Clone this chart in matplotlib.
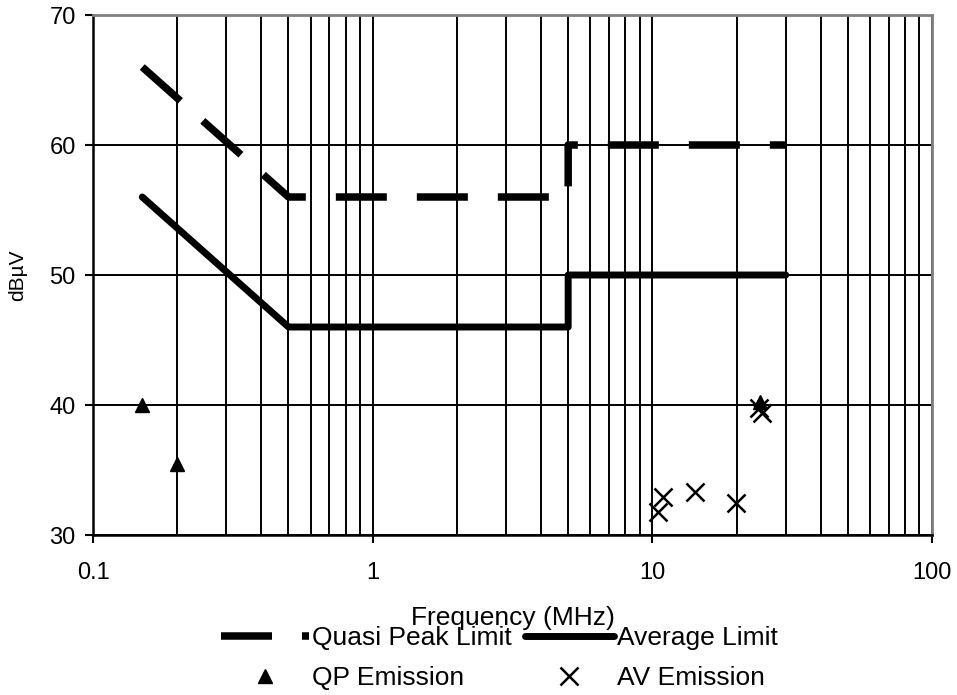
import matplotlib
matplotlib.use("Agg")
import matplotlib.pyplot as plt
from matplotlib.ticker import FixedLocator, FixedFormatter, NullFormatter

plt.rcParams['font.family'] = ['Liberation Sans', 'DejaVu Sans']
plt.rcParams['font.size'] = 17

# limit lines (MHz, dBuV)
qp_lim_freq = [0.15, 0.5, 5.0, 5.0, 30.0]
qp_lim_level = [66.0, 56.0, 56.0, 60.0, 60.0]
av_lim_freq = [0.15, 0.5, 5.0, 5.0, 30.0]
av_lim_level = [56.0, 46.0, 46.0, 50.0, 50.0]

# measured emissions
qp_freq = [0.15, 0.2, 24.2]
qp_level = [40.0, 35.5, 40.2]
av_freq = [10.45, 10.9, 14.2, 19.9, 24.0, 24.6]
av_level = [31.8, 32.9, 33.3, 32.5, 39.8, 39.4]

x_ticks = [0.1, 1, 10, 100]
x_labels = ['0.1', '1', '10', '100']
y_ticks = [30, 40, 50, 60, 70]

fig = plt.figure(figsize=(9.57, 6.95), dpi=100)
ax = fig.add_axes([0.0972, 0.2302, 0.8767, 0.7482])

ax.set_xscale('log')
ax.set_xlim(0.1, 100)
ax.set_ylim(30, 70)

# grid: every decade step vertically, 10 dB horizontally
minor = [m * d for d in (0.1, 1, 10) for m in range(2, 10)]
ax.xaxis.set_major_locator(FixedLocator(x_ticks))
ax.xaxis.set_major_formatter(FixedFormatter(x_labels))
ax.xaxis.set_minor_locator(FixedLocator(minor))
ax.xaxis.set_minor_formatter(NullFormatter())
ax.set_yticks(y_ticks)
ax.grid(True, which='both', axis='x', color='black', lw=1.4)
ax.grid(True, which='major', axis='y', color='black', lw=1.4)
ax.set_axisbelow(True)
ax.tick_params(axis='both', which='major', direction='out', length=5.5, width=1.5, color='black')
ax.tick_params(axis='x', which='minor', length=0)
ax.tick_params(axis='x', pad=14)
ax.tick_params(axis='y', pad=7)

for s in ('left', 'bottom'):
    ax.spines[s].set_color('black')
    ax.spines[s].set_linewidth(1.8)
for s in ('top', 'right'):
    ax.spines[s].set_color('#808080')
    ax.spines[s].set_linewidth(2)

l1, = ax.plot(qp_lim_freq, qp_lim_level, color='black', lw=5.4,
              linestyle=(0, (6.8, 4.0)), dash_capstyle='butt', label='Quasi Peak Limit')
l2, = ax.plot(av_lim_freq, av_lim_level, color='black', lw=5.0,
              solid_capstyle='round', label='Average Limit')
l3, = ax.plot(qp_freq, qp_level, linestyle='none', marker='^', ms=10,
              color='black', label='QP Emission')
l4, = ax.plot(av_freq, av_level, linestyle='none', marker='x', ms=12.5, mew=1.8,
              color='black', label='AV Emission')

ax.set_xlabel('Frequency (MHz)', fontsize=19, labelpad=16)
ax.set_ylabel('dBµV', fontsize=15, labelpad=16)

# row-wise order: limits on first row, emissions on second
handles = [l1, l3, l2, l4]
fig.legend(handles, [h.get_label() for h in handles], loc='upper center',
           bbox_to_anchor=(0.5214, 0.099), ncol=2, frameon=False, fontsize=19,
           handlelength=3.37, handletextpad=0.1, columnspacing=0.5, labelspacing=0.6,
           borderaxespad=0, borderpad=0)

fig.savefig('out.png', dpi=100)
